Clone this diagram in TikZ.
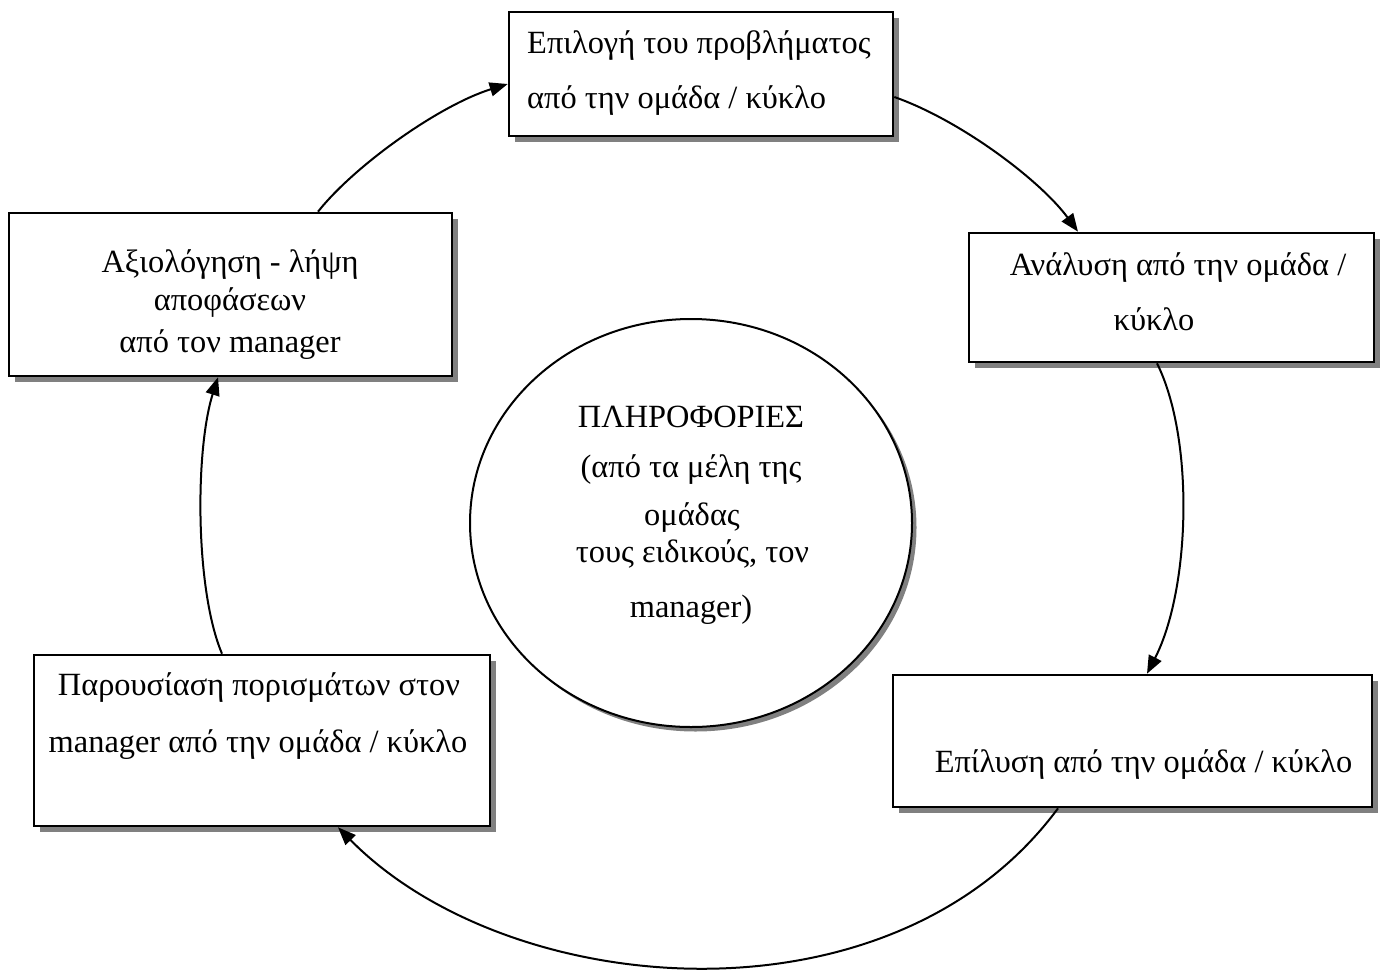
\documentclass[tikz,border=0pt]{standalone}
\usepackage{fontspec}
\setmainfont{Liberation Serif}
\usetikzlibrary{arrows.meta,shapes.geometric,shadows}
\begin{document}
\begin{tikzpicture}[x=1pt,y=-1pt,
  stagebox/.style={draw=black, line width=2.6pt, fill=white, rectangle, inner sep=0pt,
    drop shadow={shadow xshift=5.5pt, shadow yshift=-5.5pt, fill=black!50, opacity=1}},
  infobubble/.style={draw=black, line width=2pt, fill=white, ellipse, inner sep=0pt,
    drop shadow={shadow xshift=4.5pt, shadow yshift=-4.5pt, fill=black!50, opacity=1}},
  txt/.style={anchor=base, inner sep=0pt, font=\fontsize{32.4}{38}\selectfont},
  flow/.style={line width=2pt, -{Triangle[length=18pt, width=14pt]}}]
\useasboundingbox (0,0) rectangle (1383,972);

% stage boxes
\node[stagebox, minimum width=384pt, minimum height=124pt] (select) at (701,74) {};
\node[stagebox, minimum width=443pt, minimum height=163pt] (evaluate) at (230.5,294.5) {};
\node[stagebox, minimum width=405pt, minimum height=129pt] (analyse) at (1171.5,297.5) {};
\node[stagebox, minimum width=456pt, minimum height=171pt] (present) at (262,740.5) {};
\node[stagebox, minimum width=479pt, minimum height=132pt] (solve) at (1132.5,741) {};

% central information bubble
\node[infobubble, minimum width=442pt, minimum height=408pt] (info) at (691,523) {};

% box texts
\node[txt, anchor=base west] (select1) at (527,53) {Επιλογή του προβλήματος};
\node[txt, anchor=base west] (select2) at (527,108) {από την ομάδα / κύκλο};

\node[txt] (eval1) at (230,272) {Αξιολόγηση - λήψη};
\node[txt] (eval2) at (230,310) {αποφάσεων};
\node[txt] (eval3) at (230,352) {από τον manager};

\node[txt] (anal1) at (1178,275) {Ανάλυση από την ομάδα /};
\node[txt] (anal2) at (1154,330) {κύκλο};

\node[txt] (pres1) at (259,695) {Παρουσίαση πορισμάτων στον};
\node[txt] (pres2) at (258,752) {manager από την ομάδα / κύκλο};

\node[txt] (solve1) at (1143.5,772) {Επίλυση από την ομάδα / κύκλο};

\node[txt] (info1) at (691,427) {ΠΛΗΡΟΦΟΡΙΕΣ};
\node[txt] (info2) at (691,477) {(από τα μέλη της};
\node[txt] (info3) at (692,525) {ομάδας};
\node[txt] (info4) at (692.5,562) {τους ειδικούς, τον};
\node[txt] (info5) at (691,617) {manager)};

% cycle connectors
\draw[flow] ([xshift=87.5pt]evaluate.north) .. controls (355,165) and (440,105) .. ([yshift=-10pt]select.west);
\draw[flow] ([yshift=-23pt]select.east) .. controls (960,120) and (1040,180) .. ([xshift=-93.5pt]analyse.north);
\draw[flow] ([xshift=-14.5pt]analyse.south) .. controls (1195,440) and (1190,590) .. ([xshift=14.5pt]solve.north);
\draw[flow] ([xshift=-74.5pt]solve.south) .. controls (892,1033) and (509,1001) .. ([xshift=76pt]present.south);
\draw[flow] ([xshift=-40pt]present.north) .. controls (195,590) and (195,450) .. ([xshift=-12.5pt]evaluate.south);
\end{tikzpicture}
\end{document}
